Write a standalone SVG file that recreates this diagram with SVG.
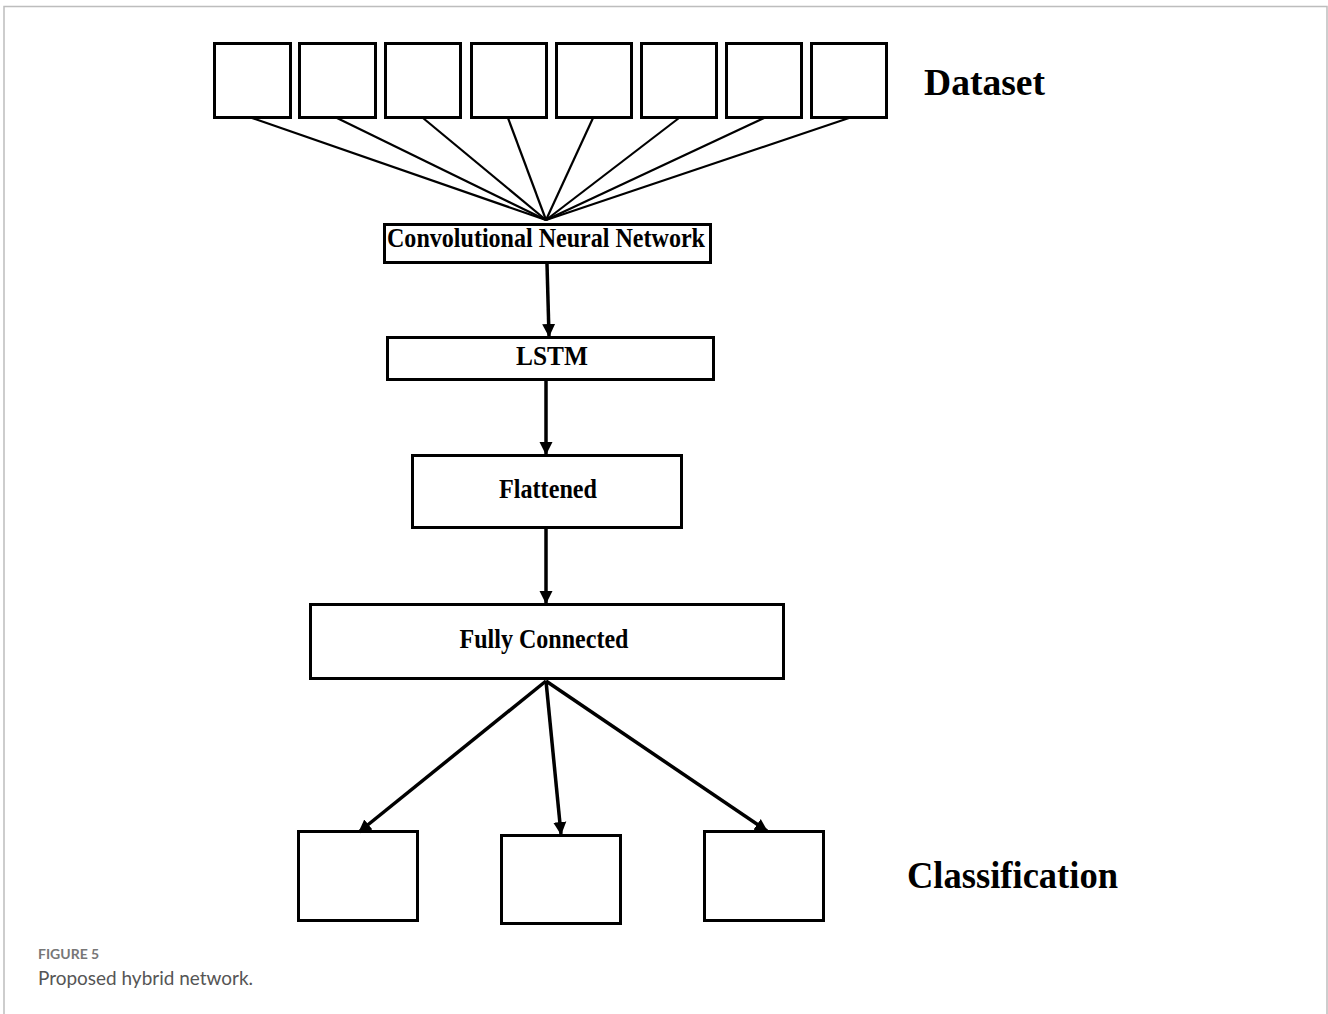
<svg xmlns="http://www.w3.org/2000/svg" width="1328" height="1014" viewBox="0 0 1328 1014">
  <style>
    .box { fill: #fff; stroke: #000; stroke-width: 3; }
    .fan { stroke: #000; stroke-width: 2.2; fill: none; }
    .arrow { stroke: #000; stroke-width: 3.5; fill: none; marker-end: url(#head); }
    .lbl { font-family: "Liberation Serif", "Times New Roman", serif; font-weight: bold; font-size: 27px; text-anchor: middle; fill: #000; }
    .big { font-family: "Liberation Serif", "Times New Roman", serif; font-weight: bold; fill: #000; }
    .cap1 { font-family: Lato, "Open Sans", sans-serif; font-size: 14px; font-weight: bold; fill: #777; }
    .cap2 { font-family: Lato, "Open Sans", sans-serif; font-size: 19px; fill: #555; }
  </style>
  <defs>
    <marker id="head" markerUnits="userSpaceOnUse" markerWidth="16" markerHeight="16" refX="12" refY="8" orient="auto">
      <path d="M0,1.5 L13,8 L0,14.5 Z" fill="#000"/>
    </marker>
  </defs>

  <rect width="1328" height="1014" fill="#fff"/>
  <!-- page frame -->
  <path d="M4,1014 V6.5 H1327 V1014" fill="none" stroke="#bdbdbd" stroke-width="1.5"/>

  <!-- dataset samples -->
  <g id="dataset">
    <rect id="d1" class="box" x="214.5" y="43.5" width="76" height="74"/>
    <rect id="d2" class="box" x="299.5" y="43.5" width="76" height="74"/>
    <rect id="d3" class="box" x="385.5" y="43.5" width="75" height="74"/>
    <rect id="d4" class="box" x="471.5" y="43.5" width="75" height="74"/>
    <rect id="d5" class="box" x="556.5" y="43.5" width="75" height="74"/>
    <rect id="d6" class="box" x="641.5" y="43.5" width="75" height="74"/>
    <rect id="d7" class="box" x="726.5" y="43.5" width="75" height="74"/>
    <rect id="d8" class="box" x="811.5" y="43.5" width="75" height="74"/>
    <text class="big" x="924" y="95" font-size="37" textLength="121" lengthAdjust="spacingAndGlyphs">Dataset</text>
  </g>

  <g id="cnn">
    <rect class="box" x="384.5" y="224.5" width="326" height="38"/>
    <text class="lbl" x="546" y="247" font-size="25" textLength="318" lengthAdjust="spacingAndGlyphs">Convolutional Neural Network</text>
  </g>

  <g id="lstm">
    <rect class="box" x="387.5" y="337.5" width="326" height="42"/>
    <text class="lbl" x="552" y="365" textLength="72" lengthAdjust="spacingAndGlyphs">LSTM</text>
  </g>

  <g id="flattened">
    <rect class="box" x="412.5" y="455.5" width="269" height="72"/>
    <text class="lbl" x="548" y="498" textLength="98" lengthAdjust="spacingAndGlyphs">Flattened</text>
  </g>

  <g id="fully-connected">
    <rect class="box" x="310.5" y="604.5" width="473" height="74"/>
    <text class="lbl" x="544" y="648" textLength="169" lengthAdjust="spacingAndGlyphs">Fully Connected</text>
  </g>

  <g id="classes">
    <rect id="c1" class="box" x="298.5" y="831.5" width="119" height="89"/>
    <rect id="c2" class="box" x="501.5" y="835.5" width="119" height="88"/>
    <rect id="c3" class="box" x="704.5" y="831.5" width="119" height="89"/>
    <text class="big" x="907" y="888" font-size="37" textLength="211" lengthAdjust="spacingAndGlyphs">Classification</text>
  </g>

  <g id="connectors">
    <!-- fan-in from every sample to the CNN -->
    <line class="fan" x1="252" y1="118" x2="546" y2="220"/>
    <line class="fan" x1="337" y1="118" x2="546" y2="220"/>
    <line class="fan" x1="423" y1="118" x2="546" y2="220"/>
    <line class="fan" x1="508" y1="118" x2="546" y2="220"/>
    <line class="fan" x1="593" y1="118" x2="546" y2="220"/>
    <line class="fan" x1="679" y1="118" x2="546" y2="220"/>
    <line class="fan" x1="764" y1="118" x2="546" y2="220"/>
    <line class="fan" x1="849" y1="118" x2="546" y2="220"/>
    <!-- pipeline -->
    <line class="arrow" x1="547" y1="264" x2="549" y2="336"/>
    <line class="arrow" x1="546" y1="381" x2="546" y2="454"/>
    <line class="arrow" x1="546" y1="529" x2="546" y2="603"/>
    <!-- fan-out to the classes -->
    <line class="arrow" x1="546" y1="681" x2="359" y2="832"/>
    <line class="arrow" x1="546" y1="681" x2="561" y2="834"/>
    <line class="arrow" x1="546" y1="681" x2="767" y2="831"/>
  </g>

  <g id="caption">
    <text class="cap1" x="38" y="959">FIGURE 5</text>
    <text class="cap2" x="38" y="985" textLength="215" lengthAdjust="spacingAndGlyphs">Proposed hybrid network.</text>
  </g>
</svg>
